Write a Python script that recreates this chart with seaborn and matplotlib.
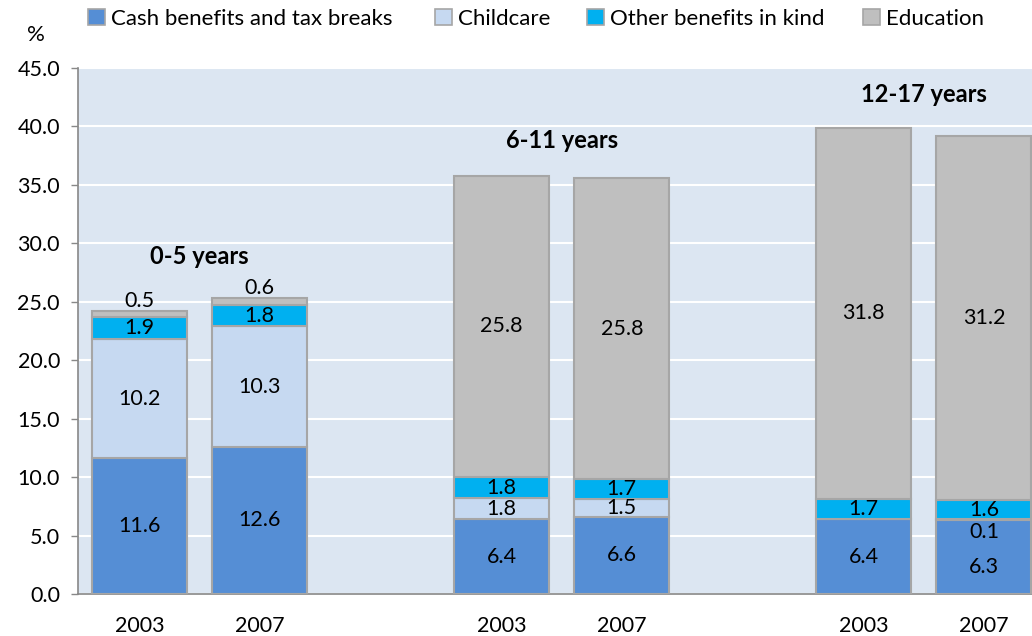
import matplotlib
matplotlib.use("Agg")
import matplotlib.pyplot as plt
from matplotlib.patches import Patch
import seaborn as sns
import numpy as np

# Spending per child, % of median working-age income, by age group and year
years = ["2003", "2007", "2003", "2007", "2003", "2007"]
age_groups = ["0-5 years", "6-11 years", "12-17 years"]
cash = [11.6, 12.6, 6.4, 6.6, 6.4, 6.3]
childcare = [10.2, 10.3, 1.8, 1.5, 0.0, 0.1]
other_kind = [1.9, 1.8, 1.8, 1.7, 1.7, 1.6]
education = [0.5, 0.6, 25.8, 25.8, 31.8, 31.2]

series_names = ["Cash benefits and tax breaks", "Childcare",
                "Other benefits in kind", "Education"]
colors = ["#558ED5", "#C6D9F1", "#00B0F0", "#BFBFBF"]

sns.set_theme(style="white")
plt.rcParams["font.family"] = ["Lato", "DejaVu Sans"]
plt.rcParams["text.color"] = "black"
plt.rcParams["xtick.color"] = "black"
plt.rcParams["ytick.color"] = "black"

fig = plt.figure(figsize=(10.32, 6.36), dpi=100)
ax = fig.add_axes([78 / 1032, 42 / 636, 1 - 78 / 1032, 526 / 636])
ax.set_facecolor("#DCE6F2")

x = np.array([0, 1, 3.01, 4.01, 6.02, 7.02])
width = 0.79
edge = "#A6A6A6"

series = [cash, childcare, other_kind, education]
bottom = np.zeros(len(x))
for vals, name, col in zip(series, series_names, colors):
    vals = np.array(vals)
    ax.bar(x, vals, width, bottom=bottom, color=col, edgecolor=edge,
           linewidth=1.5, label=name, zorder=3)
    bottom = bottom + vals

fs = 15.5
cum = np.zeros(len(x))
cum_list = []
for vals in series:
    cum_list.append(cum.copy())
    cum = cum + np.array(vals)

# segment labels
for i in range(len(x)):
    for s, vals in enumerate(series):
        v = vals[i]
        if v <= 0:
            continue
        base = cum_list[s][i]
        if s == 3 and v < 1:
            # small education slice: label sits above the bar
            ax.text(x[i], base + v + 0.9, f"{v:.1f}", ha="center",
                    va="center", fontsize=fs, zorder=4)
        elif s == 1 and v < 0.5:
            # thin childcare slice: label placed inside the cash segment
            ax.text(x[i], base - 1.0, f"{v:.1f}", ha="center",
                    va="center", fontsize=fs, zorder=4)
        elif s == 0 and 0 < childcare[i] < 0.5:
            ax.text(x[i], base + v * 0.36, f"{v:.1f}", ha="center",
                    va="center", fontsize=fs, zorder=4)
        else:
            ax.text(x[i], base + v / 2, f"{v:.1f}", ha="center",
                    va="center", fontsize=fs, zorder=4)

# age-group headings
group_pos = [(0.5, 28.9), (3.51, 38.8), (6.52, 42.7)]
for name, (gx, gy) in zip(age_groups, group_pos):
    ax.text(gx, gy, name, ha="center", va="center", fontsize=17,
            fontweight="bold", zorder=4)

ax.set_xlim(-0.51, 7.42)
ax.set_ylim(0, 45)
ax.set_yticks(np.arange(0, 45.1, 5))
ax.set_yticklabels([f"{t:.1f}" for t in np.arange(0, 45.1, 5)], fontsize=fs)
ax.set_xticks(x)
ax.set_xticklabels(years, fontsize=fs)
ax.tick_params(axis="x", length=0, pad=16)
ax.tick_params(axis="y", length=5, width=1, color="#888888", direction="out",
               left=True, pad=8)
ax.yaxis.grid(True, color="white", linewidth=1.5, zorder=0)
ax.set_axisbelow(True)
for side in ["top", "right"]:
    ax.spines[side].set_visible(False)
for side in ["left", "bottom"]:
    ax.spines[side].set_color("#888888")
    ax.spines[side].set_linewidth(1.2)

fig.text(36 / 1032, 1 - 35 / 636, "%", ha="center", va="center", fontsize=16)

# legend entries, one per series, laid out across the top
legend_x = [88, 435, 587, 863]
for name, col, lx in zip(series_names, colors, legend_x):
    h = Patch(facecolor=col, edgecolor=edge, linewidth=1.2)
    fig.legend([h], [name], loc="center left",
               bbox_to_anchor=(lx / 1032, 1 - 19 / 636), frameon=False,
               fontsize=16, handlelength=0.75, handleheight=0.75,
               handletextpad=0.3, borderaxespad=0, borderpad=0)

fig.savefig("out.png", dpi=100)
